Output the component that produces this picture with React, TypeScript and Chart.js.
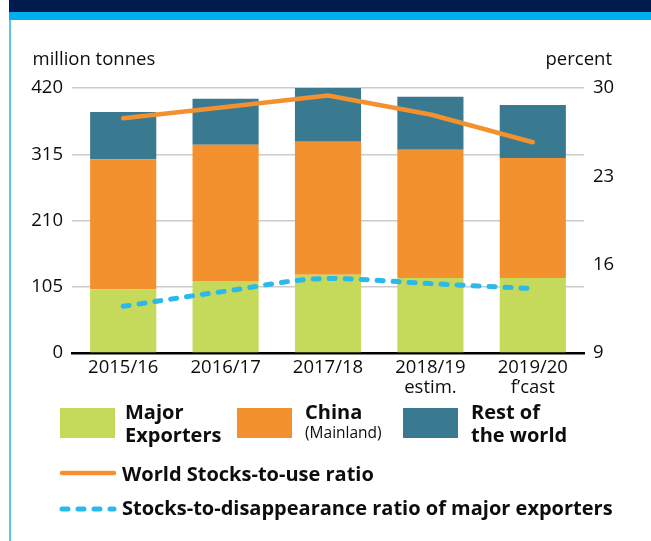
import React, { useEffect, useRef } from "react";
import { Chart, registerables } from "chart.js";

Chart.register(...registerables);

const categories = ["2015/16", "2016/17", "2017/18", "2018/19", "2019/20"];
const subLabels = ["", "", "", "estim.", "f’cast"];
const majorExporters = [101, 114, 124, 119, 119];
const china = [206, 216, 211, 203, 190];
const restOfWorld = [75, 73, 85, 84, 84];
const stocksToUse = [27.6, 28.5, 29.4, 27.9, 25.7];
const stocksToDisappearance = [12.7, 13.9, 14.9, 14.5, 14.1];
const leftTicks = { min: 0, max: 420, step: 105 };
const rightTicks = { min: 9, max: 30, step: 7 };

const GREEN = "#C5DA5B";
const ORANGE = "#F4912F";
const TEAL = "#3A7A90";
const BLUE = "#2BB8EA";
const FONT = "'Open Sans', 'Noto Sans', sans-serif";
const TEXT = "#0d0d0d";

const W = 651;
const CH = 400;

function T(props: {
  x?: number;
  right?: number;
  baseline: number;
  size: number;
  bold?: boolean;
  children: React.ReactNode;
  color?: string;
}) {
  const { x, right, baseline, size, bold, children, color } = props;
  const style: React.CSSProperties = {
    position: "absolute",
    top: baseline - 0.888 * size,
    fontFamily: FONT,
    fontSize: size,
    lineHeight: size + "px",
    fontWeight: bold ? 700 : 400,
    color: color || TEXT,
    whiteSpace: "nowrap",
  };
  if (right !== undefined) {
    style.right = right;
    style.textAlign = "right";
  } else {
    style.left = x;
  }
  return <div style={style}>{children}</div>;
}

export default function App() {
  const ref = useRef<HTMLCanvasElement | null>(null);

  useEffect(() => {
    if (!ref.current) return;
    const labels = categories.map((c, i) => (subLabels[i] ? [c, subLabels[i]] : c));
    const chart = new Chart(ref.current, {
      type: "bar",
      data: {
        labels,
        datasets: [
          {
            type: "line",
            label: "World Stocks-to-use ratio",
            data: stocksToUse,
            yAxisID: "y1",
            borderColor: ORANGE,
            borderWidth: 4.5,
            borderCapStyle: "round",
            borderJoinStyle: "round",
            pointRadius: 0,
            tension: 0,
            fill: false,
            order: 0,
          },
          {
            type: "line",
            label: "Stocks-to-disappearance ratio of major exporters",
            data: stocksToDisappearance,
            yAxisID: "y1",
            borderColor: BLUE,
            borderWidth: 5,
            borderDash: [6, 10],
            borderCapStyle: "round",
            pointRadius: 0,
            cubicInterpolationMode: "monotone",
            fill: false,
            order: 0,
          },
          {
            type: "bar",
            label: "Major Exporters",
            data: majorExporters,
            backgroundColor: GREEN,
            yAxisID: "y",
            stack: "s",
            order: 1,
          },
          {
            type: "bar",
            label: "China (Mainland)",
            data: china,
            backgroundColor: ORANGE,
            yAxisID: "y",
            stack: "s",
            order: 1,
          },
          {
            type: "bar",
            label: "Rest of the world",
            data: restOfWorld,
            backgroundColor: TEAL,
            yAxisID: "y",
            stack: "s",
            order: 1,
          },
        ] as any,
      },
      options: {
        responsive: false,
        animation: false,
        datasets: { bar: { barPercentage: 0.646, categoryPercentage: 1 } } as any,
        layout: { padding: { top: 88, left: 0, right: 0, bottom: 0 } },
        plugins: { legend: { display: false }, tooltip: { enabled: false } },
        scales: {
          x: {
            stacked: true,
            grid: { display: false, drawTicks: false },
            border: { display: true, color: "#000000", width: 2.5 },
            ticks: {
              color: TEXT,
              font: { family: FONT, size: 18.5, lineHeight: 1.08 },
              padding: 5,
              maxRotation: 0,
              autoSkip: false,
            },
            afterFit: (s: any) => {
              s.height = CH - 353;
            },
          },
          y: {
            position: "left",
            stacked: true,
            min: leftTicks.min,
            max: leftTicks.max,
            ticks: {
              stepSize: leftTicks.step,
              color: TEXT,
              font: { family: FONT, size: 18.5 },
              padding: 9,
            },
            grid: { color: "#CCCCCC", lineWidth: 1.5, drawTicks: false },
            border: { display: false },
            afterFit: (s: any) => {
              s.width = 72;
            },
          },
          y1: {
            position: "right",
            min: rightTicks.min,
            max: rightTicks.max,
            ticks: {
              stepSize: rightTicks.step,
              color: TEXT,
              font: { family: FONT, size: 18.5 },
              padding: 9,
            },
            grid: { drawOnChartArea: false, drawTicks: false },
            border: { display: false },
            afterFit: (s: any) => {
              s.width = W - 584;
            },
          },
        },
      } as any,
    });
    return () => chart.destroy();
  }, []);

  return (
    <div
      style={{
        position: "absolute",
        left: 0,
        top: 0,
        width: W,
        height: 541,
        background: "#ffffff",
        overflow: "hidden",
      }}
    >
      <div style={{ position: "absolute", left: 9, top: 0, width: W - 9, height: 12, background: "#001B4D" }} />
      <div style={{ position: "absolute", left: 9, top: 12, width: W - 9, height: 8, background: "#00AEEF" }} />
      <div style={{ position: "absolute", left: 9, top: 20, width: 2, height: 541 - 20, background: "#5BC6F2" }} />

      <canvas
        ref={ref}
        width={W}
        height={CH}
        style={{ position: "absolute", left: 0, top: 0, width: W, height: CH }}
      />

      <T x={32.5} baseline={65} size={18.5}>million tonnes</T>
      <T right={W - 612} baseline={65} size={18.5}>percent</T>

      <div style={{ position: "absolute", left: 60, top: 408, width: 55, height: 30, background: GREEN }} />
      <T x={125} baseline={420} size={20} bold>Major</T>
      <T x={125} baseline={443} size={20} bold>Exporters</T>

      <div style={{ position: "absolute", left: 237, top: 408, width: 55, height: 30, background: ORANGE }} />
      <T x={305} baseline={420} size={20} bold>China</T>
      <T x={305} baseline={439} size={15.5}>(Mainland)</T>

      <div style={{ position: "absolute", left: 403, top: 408, width: 55, height: 30, background: TEAL }} />
      <T x={471} baseline={420} size={20} bold>Rest of</T>
      <T x={471} baseline={443} size={20} bold>the world</T>

      <svg
        width={W}
        height={541}
        style={{ position: "absolute", left: 0, top: 0, pointerEvents: "none" }}
      >
        <line x1={62} y1={473} x2={114} y2={473} stroke={ORANGE} strokeWidth={4.5} strokeLinecap="round" />
        <line
          x1={62}
          y1={509}
          x2={114}
          y2={509}
          stroke={BLUE}
          strokeWidth={5}
          strokeLinecap="round"
          strokeDasharray="6 10"
        />
      </svg>
      <T x={122} baseline={482} size={20} bold>World Stocks-to-use ratio</T>
      <T x={122} baseline={516} size={20} bold>Stocks-to-disappearance ratio of major exporters</T>
    </div>
  );
}
